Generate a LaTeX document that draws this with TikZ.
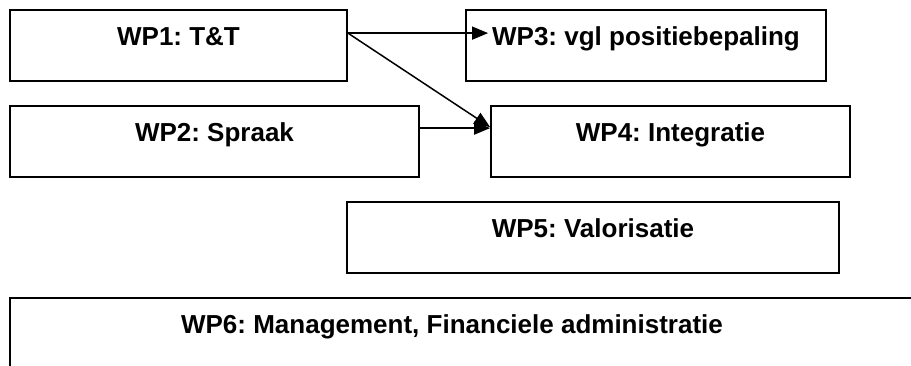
\documentclass[tikz,border=0pt]{standalone}
\usepackage{fontspec}
\setmainfont{Liberation Sans}
\usetikzlibrary{arrows.meta,calc}
\begin{document}
\frenchspacing
\begin{tikzpicture}[x=1pt,y=-1pt,
  wpbox/.style={draw=black, line width=1.8pt, inner sep=0pt, text height=35pt, text depth=36pt,
    font=\fontsize{26}{30}\selectfont\bfseries\frenchspacing},
  wptext/.style={inner sep=0pt, anchor=base, font=\fontsize{26}{30}\selectfont\bfseries\frenchspacing},
  conn/.style={draw=black, line width=1.5pt, -{Triangle[length=16pt,width=13pt]}}
]
\useasboundingbox (0,0) rectangle (911,365);
\fill[white] (0,0) rectangle (911,365);
\node[wpbox, minimum width=337pt] (wp1) at (178.5,45.5) {WP1: T\&T};
\node[wpbox, minimum width=360pt] (wp3) at (646,45.5) {WP3: vgl positiebepaling};
\node[wpbox, minimum width=409pt] (wp2) at (214.5,141.5) {WP2: Spraak};
\node[wpbox, minimum width=359pt] (wp4) at (670.5,141.5) {WP4: Integratie};
\node[wpbox, minimum width=492pt] (wp5) at (593,237.5) {WP5: Valorisatie};
\begin{scope}
\clip (0,0) rectangle (911,365);
\draw[line width=1.8pt] (10,380) -- (10,298) -- (930,298);
\end{scope}
\node[wptext] (wp6) at (452,333) {WP6: Management, Financiele administratie};
\coordinate (s1) at ($(wp1.north east)+(0,24)$);
\coordinate (t3) at ($(wp3.north west)+(23,24)$);
\coordinate (t4a) at ($(wp4.north west)+(0,22)$);
\coordinate (s2) at ($(wp2.north east)+(0,23)$);
\coordinate (t4b) at ($(wp4.north west)+(0,23)$);
\draw[conn] (s1) -- (t3);
\draw[conn] (s1) -- (t4a);
\draw[conn] (s2) -- (t4b);
\end{tikzpicture}
\end{document}
